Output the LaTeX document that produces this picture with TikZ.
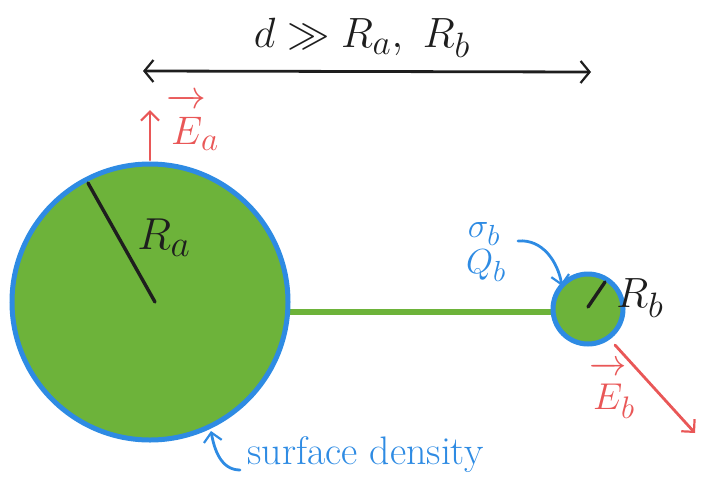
\documentclass[tikz,border=0pt]{standalone}
\usepackage{amsmath, amssymb}
\usepackage{graphicx}
\usepackage{tikz}
\usepackage{xcolor}
\usetikzlibrary{arrows.meta}

\definecolor{fillgreen}{HTML}{6DB33A}
\definecolor{rimblue}{HTML}{2E8BE3}
\definecolor{fieldred}{HTML}{E95757}
\definecolor{inkblack}{HTML}{1E1E1E}

% math set at \Huge, then scaled up
\newcommand{\bigsym}[2]{\scalebox{#1}{\Huge$#2$}}
% field vector with its arrow lifted off the letter
\newcommand{\fieldvec}[1]{\overrightarrow{\rule{0pt}{2.1ex}#1}}

\tikzset{
  barb/.style={-{Straight Barb[length=9pt,width=18pt,line width=2.2pt]}},
  ink/.style={line width=2.8pt, line cap=round},
}

\begin{document}
\begin{tikzpicture}[x=1pt,y=-1pt]
    \useasboundingbox (0,0) rectangle (703,490);

    % wire between the two spheres
    \coordinate (wa) at (288,312);
    \coordinate (wb) at (556,312);
    \draw[line width=6pt, fillgreen] (wa) -- (wb);

    % spheres
    \node[circle, draw=rimblue, fill=fillgreen, line width=5pt, minimum size=276pt, inner sep=0pt] (sa) at (150,302) {};
    \node[circle, draw=rimblue, fill=fillgreen, line width=5pt, minimum size=70pt, inner sep=0pt] (sb) at (588,309) {};

    % radii
    \coordinate (ca) at (155,302);
    \coordinate (ra) at (88,183);
    \draw[ink, line width=3.4pt, inkblack] (ca) -- (ra);
    \node[inkblack] (la) at (164,238) {\bigsym{1.8}{R_a}};

    \coordinate (cb) at (588,307);
    \coordinate (rb) at (605,282);
    \draw[ink, line width=3.4pt, inkblack] (cb) -- (rb);
    \node[inkblack] (lb) at (640,298) {\bigsym{1.7}{R_b}};

    % distance
    \coordinate (dl) at (143,71);
    \coordinate (dr) at (591,72);
    \draw[ink, inkblack, {Straight Barb[length=9pt,width=22pt,line width=2.2pt]}-{Straight Barb[length=9pt,width=22pt,line width=2.2pt]}] (dl) -- (dr);
    \node[inkblack] (dist) at (362,38) {\bigsym{1.7}{d \gg R_a,\ R_b}};

    % fields
    \coordinate (ea0) at (150,160);
    \coordinate (ea1) at (150,110);
    \draw[ink, fieldred, barb] (ea0) -- (ea1);
    \node[fieldred] (lea) at (193,122) {\bigsym{1.6}{\fieldvec{E}_{\!a}}};

    \coordinate (eb0) at (615,345);
    \coordinate (eb1) at (695,433);
    \draw[ink, fieldred, barb] (eb0) -- (eb1);
    \node[fieldred] (leb) at (612,390) {\bigsym{1.5}{\fieldvec{E}_{\!b}}};

    % charge on the small sphere
    \node[rimblue] (sg) at (484,234) {\bigsym{1.4}{\sigma_b}};
    \node[rimblue] (qb) at (486,266) {\bigsym{1.4}{Q_b}};
    \coordinate (sq0) at (518,241);
    \coordinate (sq1) at (562,286);
    \draw[ink, rimblue, barb] (sq0) to[out=5,in=100] (sq1);

    % surface density
    \node[rimblue, anchor=west] (dens) at (244,455) {\scalebox{1.6}{\Huge surface density}};
    \coordinate (sd0) at (240,470);
    \coordinate (sd1) at (211,431);
    \draw[ink, rimblue, barb] (sd0) to[out=180,in=-80] (sd1);
\end{tikzpicture}
\end{document}
